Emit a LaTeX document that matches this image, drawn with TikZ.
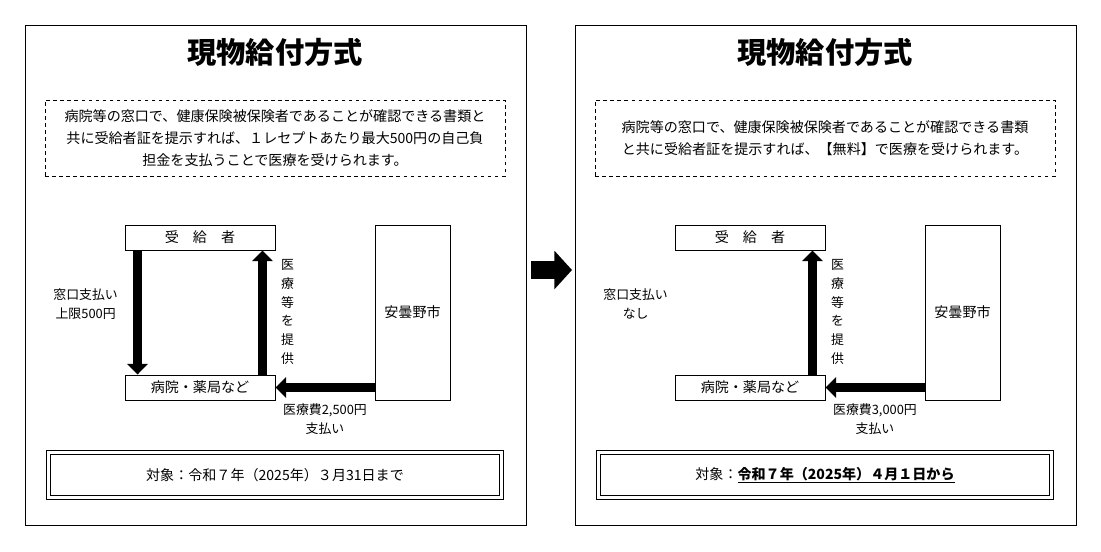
\documentclass[tikz,border=0pt]{standalone}
\usepackage{fontspec}
\setmainfont{Noto Sans CJK JP}
\usetikzlibrary{arrows.meta}
\newcommand{\arrowwidth}{7pt}
\tikzset{
  panel/.style={draw,thick,minimum width=15.03cm,minimum height=15cm,anchor=north west},
  party/.style={draw,thick,minimum width=4.5cm,minimum height=0.75cm,font=\fontsize{12}{14}\selectfont},
  city/.style={draw,thick,minimum width=2.25cm,minimum height=5.25cm,anchor=north west},
  note/.style={draw,dashed,minimum width=13.8cm,minimum height=2.28cm,align=center,font=\fontsize{12}{19}\selectfont},
  target/.style={draw,double,double distance=2.5pt,line width=0.8pt,minimum width=13.6cm,minimum height=1.35cm,font=\fontsize{12}{14}\selectfont},
  label/.style={font=\fontsize{11}{16}\selectfont,align=center},
  flow/.style={line width=\arrowwidth,-{Triangle[length=9pt,width=17pt]}},
  bigflow/.style={line width=15pt,-{Triangle[length=15pt,width=32pt]}},
  title/.style={font=\bfseries\fontsize{25}{28}\selectfont}
}
\begin{document}
\begin{tikzpicture}[x=0.03cm,y=-0.03cm]
\useasboundingbox (0,0) rectangle (1101,551);
% left
\node[panel] (framel) at (25,25) {};
\node[title] (titlel) at (275,52) {現物給付方式};
\node[note] (notel) at (275,138) {病院等の窓口で、健康保険被保険者であることが確認できる書類と\\共に受給者証を提示すれば、１レセプトあたり最大500円の自己負\\担金を支払うことで医療を受けられます。};
\node[party] (userl) at (200,237.5) {受\quad 給\quad 者};
\node[party] (hospl) at (200,387.5) {病院・薬局など};
\node[city] (cityl) at (375,225) {};
\node[font=\fontsize{12}{14}\selectfont] at (412.5,312) {安曇野市};
\draw[flow] ([xshift=13*0.03cm]userl.south west) -- ([xshift=13*0.03cm]hospl.north west);
\draw[flow] ([xshift=-13*0.03cm]hospl.north east) -- ([xshift=-13*0.03cm]userl.south east);
\draw[flow] (cityl.west |- hospl) -- (hospl.east);
\node[label,anchor=east] (payl) at (122,304) {窓口支払い\\上限500円};
\node[label,text width=1em] (carel) at (287,312) {医\\療\\等\\を\\提\\供};
\node[label] (feel) at (325,419) {医療費2,500円\\支払い};
\node[target] (targetl) at (275,475) {対象：令和７年（2025年）３月31日まで};
% middle
\coordinate (stepfrom) at (531,270);
\coordinate (stepto) at (572,270);
\draw[bigflow] (stepfrom) -- (stepto);
% right
\node[panel] (framer) at (575,25) {};
\node[title] (titler) at (825,52) {現物給付方式};
\node[note] (noter) at (825,138) {病院等の窓口で、健康保険被保険者であることが確認できる書類\\と共に受給者証を提示すれば、【無料】で医療を受けられます。};
\node[party] (userr) at (750,237.5) {受\quad 給\quad 者};
\node[party] (hospr) at (750,387.5) {病院・薬局など};
\node[city] (cityr) at (925,225) {};
\node[font=\fontsize{12}{14}\selectfont] at (962.5,312) {安曇野市};
\draw[flow] ([xshift=-13*0.03cm]hospr.north east) -- ([xshift=-13*0.03cm]userr.south east);
\draw[flow] (cityr.west |- hospr) -- (hospr.east);
\node[label,anchor=east] (payr) at (672,304) {窓口支払い\\なし};
\node[label,text width=1em] (carer) at (837,312) {医\\療\\等\\を\\提\\供};
\node[label] (feer) at (875,419) {医療費3,000円\\支払い};
\node[target] (targetr) at (825,475) {対象：\textbf{\underline{令和７年（2025年）４月１日から}}};
\end{tikzpicture}
\end{document}
